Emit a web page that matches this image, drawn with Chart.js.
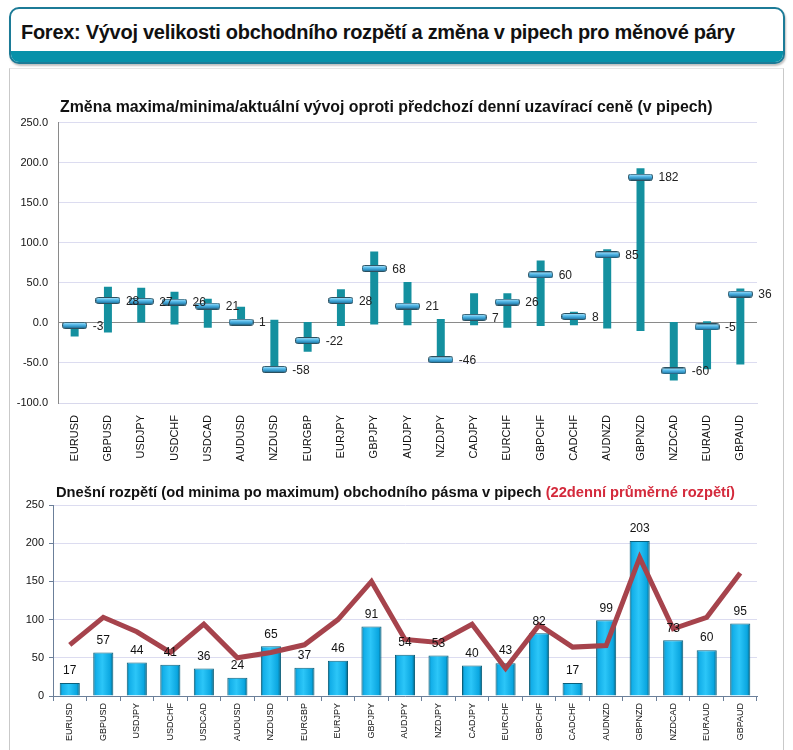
<!DOCTYPE html>
<html>
<head>
<meta charset="utf-8">
<script src="https://cdn.jsdelivr.net/npm/chart.js@4.4.1/dist/chart.umd.min.js"></script>
<style>
  html,body{margin:0;padding:0;background:#fff;}
  body{width:793px;height:750px;position:relative;overflow:hidden;font-family:Arial,"Liberation Sans",sans-serif;}
  #hdr{position:absolute;left:9px;top:7px;width:772px;height:53px;border:2px solid #1c7b97;border-radius:10px;overflow:hidden;background:#fff;box-shadow:1px 2px 2px rgba(0,0,0,0.25);}
  #hdr .band{position:absolute;left:0;right:0;bottom:0;height:11px;background:#0791a9;}
  #hdr h1{position:absolute;left:10px;top:12px;margin:0;font-size:20px;font-weight:bold;color:#111;letter-spacing:-0.28px;white-space:nowrap;}
  #panel{position:absolute;left:9px;top:68px;width:773px;height:700px;border:1px solid #c9c9c9;border-top-color:#e6e6e6;}
  .ctitle{position:absolute;margin:0;font-weight:bold;color:#111;white-space:nowrap;z-index:2;}
  .ctitle span{color:#d42a3c;}
  canvas{position:absolute;}
  #c1wrap{position:absolute;left:0;top:106px;width:793px;height:360px;}
  #c2wrap{position:absolute;left:0;top:480px;width:793px;height:270px;}
</style>
</head>
<body>
<div id="hdr"><h1>Forex: Vývoj velikosti obchodního rozpětí a změna v pipech pro měnové páry</h1><div class="band"></div></div>
<div id="panel"></div>
<div class="ctitle" style="left:60px;top:98px;font-size:15.9px;">Změna maxima/minima/aktuální vývoj oproti předchozí denní uzavírací ceně (v pipech)</div>
<div class="ctitle" style="left:56px;top:484px;font-size:14.7px;">Dnešní rozpětí (od minima po maximum) obchodního pásma v pipech <span>(22denní průměrné rozpětí)</span></div>
<div id="c1wrap"><canvas id="c1"></canvas></div>
<div id="c2wrap"><canvas id="c2"></canvas></div>
<script>
const pairs = ["EURUSD","GBPUSD","USDJPY","USDCHF","USDCAD","AUDUSD","NZDUSD","EURGBP","EURJPY","GBPJPY","AUDJPY","NZDJPY","CADJPY","EURCHF","GBPCHF","CADCHF","AUDNZD","GBPNZD","NZDCAD","EURAUD","GBPAUD"];
const changeMax = [0,45,44,39,30,20,4,1,42,89,51,5,37,37,78,14,92,193,1,2,43];
const changeMin = [-17,-12,0,-2,-6,-4,-61,-36,-4,-2,-3,-48,-3,-6,-4,-3,-7,-10,-72,-58,-52];
const changeNow = [-3,28,27,26,21,1,-58,-22,28,68,21,-46,7,26,60,8,85,182,-60,-5,36];
const rangeToday = [17,57,44,41,36,24,65,37,46,91,54,53,40,43,82,17,99,203,73,60,95];
const range22 = [67,103,84,57,94,50,57,67,100,150,74,70,94,36,93,64,66,181,88,103,161];
const topTicks = [-100,-50,0,50,100,150,200,250];
const bottomTicks = [0,50,100,150,200,250];

const FONT = 'Arial, "Liberation Sans", sans-serif';
Chart.defaults.font.family = FONT;
Chart.defaults.color = '#111';
Chart.defaults.animation = false;
Chart.defaults.plugins.legend.display = false;
Chart.defaults.plugins.tooltip.enabled = false;

function makeMarker(){
  const dpr = window.devicePixelRatio || 1;
  const w = 25, h = 7;
  const c = document.createElement('canvas');
  c.width = w*dpr; c.height = h*dpr;
  const x = c.getContext('2d');
  x.scale(dpr,dpr);
  const g = x.createLinearGradient(0,0,0,h);
  g.addColorStop(0,'#d4f0fc');
  g.addColorStop(0.35,'#62c2ee');
  g.addColorStop(0.7,'#2f93c6');
  g.addColorStop(1,'#1d5f7c');
  x.fillStyle = g;
  x.strokeStyle = '#2b4f5e';
  x.lineWidth = 1;
  x.beginPath();
  x.roundRect(0.5,0.5,w-1,h-1,2);
  x.fill(); x.stroke();
  const img = new Image(w,h);
  img.src = c.toDataURL();
  return img;
}
const marker = makeMarker();

const topLabels = {
  id:'topLabels',
  afterDatasetsDraw(chart){
    const meta = chart.getDatasetMeta(0);
    const ctx = chart.ctx;
    ctx.save();
    ctx.font = '12px ' + FONT;
    ctx.fillStyle = '#222';
    ctx.textAlign = 'left';
    ctx.textBaseline = 'middle';
    meta.data.forEach((pt,i)=>{
      ctx.fillText(String(changeNow[i]), pt.x + 18, pt.y + 1);
    });
    ctx.restore();
  }
};

function drawTop(pointImg){
new Chart(document.getElementById('c1'), {
  type:'bar',
  data:{
    labels:pairs,
    datasets:[
      {type:'line', data:changeNow, showLine:false, pointStyle:pointImg, pointRadius:6, order:0},
      {type:'bar', data:pairs.map((p,i)=>[changeMin[i],changeMax[i]]), backgroundColor:'#14909f', barPercentage:0.24, categoryPercentage:1, order:1}
    ]
  },
  options:{
    responsive:false,
    layout:{padding:{left:8,right:36,top:8,bottom:3}},
    scales:{
      x:{
        grid:{display:false},
        border:{color:'#d8d8ec'},
        ticks:{font:{size:11},color:'#111',minRotation:90,maxRotation:90,padding:4,autoSkip:false},
        afterFit(s){s.height=60;}
      },
      y:{
        min:-100,max:250,
        afterBuildTicks(s){s.ticks = topTicks.map(v=>({value:v}));},
        grid:{color:(c)=>c.tick && c.tick.value===0 ? '#8a8a8a' : '#dcdcf0', tickLength:0, lineWidth:1},
        border:{color:'#8a8a8a'},
        ticks:{font:{size:11},color:'#111',padding:10,callback:(v)=>Number(v).toFixed(1)},
        afterFit(s){s.width=50;}
      }
    }
  },
  plugins:[topLabels]
});
}

const c1 = document.getElementById('c1');
c1.style.width='793px'; c1.style.height='360px';
c1.width = 793; c1.height = 360;
if (marker.complete && marker.naturalWidth) drawTop(marker); else marker.onload = ()=>drawTop(marker);

const bottomLabels = {
  id:'bottomLabels',
  afterDatasetsDraw(chart){
    const meta = chart.getDatasetMeta(1);
    const ctx = chart.ctx;
    ctx.save();
    ctx.font = '12px ' + FONT;
    ctx.fillStyle = '#111';
    ctx.textAlign = 'center';
    ctx.textBaseline = 'bottom';
    meta.data.forEach((b,i)=>{
      ctx.fillText(String(rangeToday[i]), b.x, b.y - 6);
    });
    ctx.restore();
  }
};

function barGradient(context){
  const chart = context.chart;
  const sx = chart.scales && chart.scales.x;
  if(!sx || context.dataIndex === undefined) return '#12b2ef';
  const cx = sx.getPixelForValue(context.dataIndex);
  const w = 20;
  if(!isFinite(cx)) return '#12b2ef';
  const g = chart.ctx.createLinearGradient(cx - w/2, 0, cx + w/2, 0);
  g.addColorStop(0,'#0a6f92');
  g.addColorStop(0.12,'#12aee8');
  g.addColorStop(0.45,'#2cc6f8');
  g.addColorStop(0.85,'#0aa6e0');
  g.addColorStop(1,'#06607d');
  return g;
}

const c2 = document.getElementById('c2');
c2.style.width='793px'; c2.style.height='270px';
c2.width = 793; c2.height = 270;
new Chart(c2, {
  type:'bar',
  data:{
    labels:pairs,
    datasets:[
      {type:'line', data:range22, borderColor:'#a6434c', borderWidth:5, pointRadius:0, tension:0, order:0, borderJoinStyle:'miter'},
      {type:'bar', data:rangeToday, backgroundColor:barGradient, borderColor:'#0b5f7a', borderWidth:1, barPercentage:0.6, categoryPercentage:1, order:1}
    ]
  },
  options:{
    responsive:false,
    layout:{padding:{left:8,right:36,top:25,bottom:4}},
    scales:{
      x:{
        grid:{display:true,drawOnChartArea:false,drawTicks:true,tickLength:5,color:'#6b7f99'},
        border:{color:'#6b7f99'},
        ticks:{font:{size:9},color:'#111',minRotation:90,maxRotation:90,padding:2,autoSkip:false},
        afterFit(s){s.height=50;}
      },
      y:{
        min:0,max:250,
        afterBuildTicks(s){s.ticks = bottomTicks.map(v=>({value:v}));},
        grid:{color:'#dcdcf0', tickLength:4, tickColor:'#6b7f99'},
        border:{color:'#6b7f99'},
        ticks:{font:{size:11},color:'#111',padding:5},
        afterFit(s){s.width=45;}
      }
    }
  },
  plugins:[bottomLabels]
});
</script>
</body>
</html>
